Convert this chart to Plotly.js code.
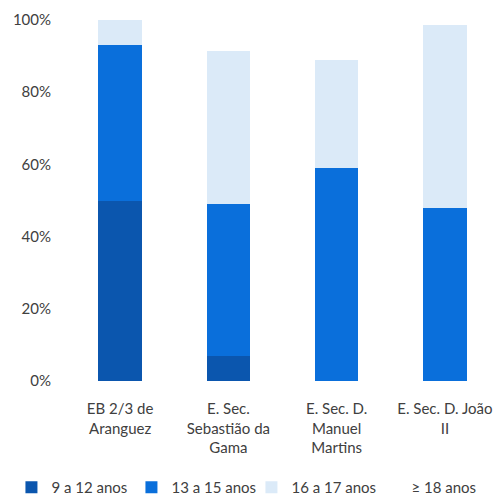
<!DOCTYPE html>
<html>
<head>
<meta charset="utf-8">
<script src="https://cdn.plot.ly/plotly-3.0.1.min.js"></script>
<style>html,body{margin:0;padding:0;background:#fff;}#chart{width:499px;height:504px;}</style>
</head>
<body>
<div id="chart"></div>
<script>
const categories = ["EB 2/3 de<br>Aranguez", "E. Sec.<br>Sebastião da<br>Gama", "E. Sec. D.<br>Manuel<br>Martins", "E. Sec. D. João<br>II"];
const seriesNames = ["9 a 12 anos", "13 a 15 anos", "16 a 17 anos", "≥ 18 anos"];
const age9to12 = [50, 7, 0, 0];
const age13to15 = [43, 42, 59, 48];
const age16to17 = [7, 42.5, 30, 50.5];
const age18plus = [0, 8.5, 11, 1.5];
const colors = ["#0b56ae", "#0a6fdb", "#dbeaf8", "#ffffff"];

const values = [age9to12, age13to15, age16to17, age18plus];
const traces = values.map((v, i) => ({
  type: "bar",
  name: seriesNames[i],
  x: categories,
  y: v,
  marker: {color: colors[i]},
  hoverinfo: "none"
}));

const layout = {
  width: 499, height: 504,
  barmode: "stack",
  bargap: 0.6,
  margin: {l: 66, r: 0, t: 20, b: 123},
  paper_bgcolor: "#fff",
  plot_bgcolor: "#fff",
  font: {family: "Lato, 'Open Sans', sans-serif", size: 15, color: "#404040"},
  xaxis: {
    showgrid: false, zeroline: false, showline: false,
    ticks: "", tickfont: {size: 15, color: "#404040"},
    ticklabelstandoff: 17
  },
  yaxis: {
    range: [0, 100], dtick: 20, ticksuffix: "%",
    showgrid: false, zeroline: false, showline: false,
    ticks: "", tickfont: {size: 15, color: "#404040"},
    ticklabelstandoff: 14
  },
  showlegend: true,
  legend: {
    orientation: "h",
    x: -0.126, xanchor: "left",
    y: -0.249, yanchor: "top",
    entrywidth: 75, entrywidthmode: "pixels",
    traceorder: "normal",
    font: {size: 15, color: "#404040"},
    itemclick: false
  }
};

Plotly.newPlot("chart", traces, layout, {staticPlot: true, displayModeBar: false});
</script>
</body>
</html>
